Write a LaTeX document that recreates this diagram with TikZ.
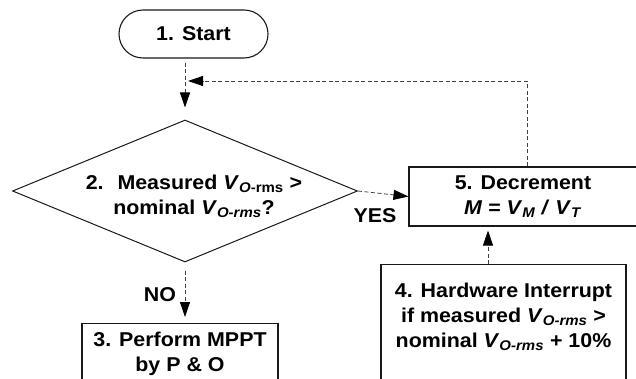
\documentclass[tikz,border=0pt]{standalone}
\usepackage{fontspec}
\setmainfont{Liberation Sans}[FakeStretch=1.07]
\usetikzlibrary{shapes.geometric,arrows.meta}
\tikzset{
  box/.style={draw=black!90, line width=1.1pt, rectangle, inner sep=0pt},
  conn/.style={draw=black!75, line width=0.8pt, dash pattern=on 4pt off 2.5pt,
    -{Triangle[length=15pt,width=10pt,color=black]}},
  lbl/.style={font=\fontsize{20}{25}\selectfont\bfseries, align=center, inner sep=0pt},
}
\newcommand{\VV}[1]{\textit{V}\textsubscript{#1}}
\begin{document}
\begin{tikzpicture}[x=1pt,y=-1pt]
\path[use as bounding box, clip] (0,0) rectangle (636,379);
% nodes
\node[box, rounded corners=24pt, minimum width=149pt, minimum height=48pt, lbl] (start) at (193.5,34) {1. Start};
\node[diamond, draw=black!90, line width=1pt, minimum width=345pt, minimum height=142pt, inner sep=0pt] (dia) at (185,191) {};
\node[lbl] (diatext) at (194,196) {2.~ Measured \VV{\textit{O}-rms} >\\nominal \VV{\textit{O-rms}}?};
\node[box, lbl, minimum width=228pt, minimum height=59pt] (dec) at (523,196.5) {5. Decrement\\\textit{M} = \VV{\textit{M}} \textit{/} \VV{\textit{T}}};
\node[box, minimum width=245pt, minimum height=150pt, anchor=north] (hw) at (503.5,264) {};
\node[lbl] (hwtext) at (503.5,317) {4. Hardware Interrupt\\if measured \VV{\textit{O-rms}} >\\nominal \VV{\textit{O-rms}} + 10\%};
\node[box, minimum width=196pt, minimum height=100pt, anchor=north] (perf) at (180,323) {};
\node[lbl] (perftext) at (180,354) {3. Perform MPPT\\by P \& O};
\node[lbl] (yes) at (375,216) {YES};
\node[lbl] (no) at (160,295) {NO};
% helper coordinates
\coordinate (fbTop) at (527,81);
\coordinate (fbEnd) at (188,81);
\coordinate (hwx) at (488,300);
% connectors
\draw[conn, shorten <=4pt, shorten >=12pt] (start.south -| dia.north) -- (dia.north);
\draw[conn] (dia.east) -- (dec.west);
\draw[conn, shorten <=8pt, shorten >=6pt] (dia.south) -- (dia.south |- perf.north);
\draw[conn, shorten >=4pt] (hwx |- hw.north) -- (hwx |- dec.south);
\draw[conn] (fbTop |- dec.north) -- (fbTop) -- (fbEnd);
\end{tikzpicture}
\end{document}
